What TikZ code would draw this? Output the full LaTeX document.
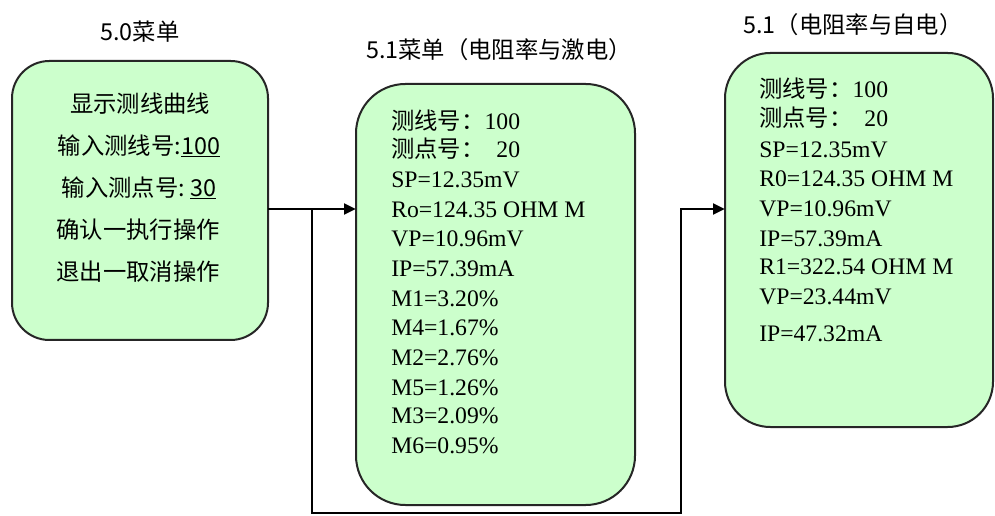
\documentclass[tikz,border=0pt]{standalone}
\usepackage{fontspec}
\setmainfont{Liberation Serif}
\newfontfamily\cjk{Noto Sans CJK SC}
\usetikzlibrary{arrows.meta}
\definecolor{boxfill}{HTML}{CCFFCC}
\newcommand{\zh}[1]{{\cjk\fontsize{17.5}{20}\selectfont #1}}
\begin{document}
\begin{tikzpicture}[x=0.75pt,y=-0.75pt,
  menubox/.style={draw=black!85,line width=1.5pt,fill=boxfill,inner sep=0pt,outer sep=0pt},
  ttl/.style={font=\cjk\fontsize{17.5}{20}\selectfont,inner sep=0pt,anchor=center},
  cjkline/.style={font=\cjk\fontsize{17.5}{20}\selectfont,inner sep=0pt,anchor=center},
  valline/.style={font=\fontsize{17.75}{20}\selectfont,inner sep=0pt,anchor=base west},
  conn/.style={line width=2.2pt,black},
  arr/.style={conn,-{Triangle[length=9pt,width=8pt]}}]
\useasboundingbox (0,0) rectangle (995,516);
\fill[white] (0,0) rectangle (995,516);

% titles
\node[ttl] (t0) at (140,32) {5.0菜单};
\node[ttl] (t1) at (499,50) {5.1菜单（电阻率与激电）};
\node[ttl] (t2) at (853,25) {5.1（电阻率与自电）};

% boxes
\node[menubox,rounded corners=28pt,minimum width=192pt,minimum height=209.25pt] (b1) at (140,200.5) {};
\node[menubox,rounded corners=37pt,minimum width=209.25pt,minimum height=315.75pt] (b2) at (495.5,294.5) {};
\node[menubox,rounded corners=34pt,minimum width=201pt,minimum height=280.5pt] (b3) at (859,240) {};

% box 1 text
\node[cjkline] (l1a) at (140,104) {显示测线曲线};
\node[cjkline] (l1b) at (139,146) {输入测线号:\underline{100}};
\node[cjkline] (l1c) at (139,188) {输入测点号:\ \underline{30}};
\node[cjkline] (l1d) at (138,230) {确认一执行操作};
\node[cjkline] (l1e) at (138,272) {退出一取消操作};

% box 2 text
\node[valline] (l2a) at (391,130) {\zh{测线号：}100};
\node[valline] (l2b) at (391,158) {\zh{测点号：}\phantom{1}20};
\node[valline] (l2c) at (391,188) {SP=12.35mV};
\node[valline] (l2d) at (391,218) {Ro=124.35 OHM M};
\node[valline] (l2e) at (391,247) {VP=10.96mV};
\node[valline] (l2f) at (391,277) {IP=57.39mA};
\node[valline] (l2g) at (391,307) {M1=3.20\%};
\node[valline] (l2h) at (391,335) {M4=1.67\%};
\node[valline] (l2i) at (391,365) {M2=2.76\%};
\node[valline] (l2j) at (391,395) {M5=1.26\%};
\node[valline] (l2k) at (391,423) {M3=2.09\%};
\node[valline] (l2l) at (391,453) {M6=0.95\%};

% box 3 text
\node[valline] (l3a) at (759,98) {\zh{测线号：}100};
\node[valline] (l3b) at (759,127) {\zh{测点号：}\phantom{1}20};
\node[valline] (l3c) at (759,158) {SP=12.35mV};
\node[valline] (l3d) at (759,187) {R0=124.35 OHM M};
\node[valline] (l3e) at (759,217) {VP=10.96mV};
\node[valline] (l3f) at (759,247) {IP=57.39mA};
\node[valline] (l3g) at (759,275) {R1=322.54 OHM M};
\node[valline] (l3h) at (759,305) {VP=23.44mV};
\node[valline] (l3i) at (759,342) {IP=47.32mA};

% connectors
\coordinate (j1) at (312,209);
\coordinate (c1) at (312,513);
\coordinate (c2) at (681,513);
\coordinate (c3) at (681,209);
\draw[arr] (b1.east |- j1) -- (b2.west |- j1);
\draw[arr] (j1) -- (c1) -- (c2) -- (c3) -- (b3.west |- c3);
\end{tikzpicture}
\end{document}
